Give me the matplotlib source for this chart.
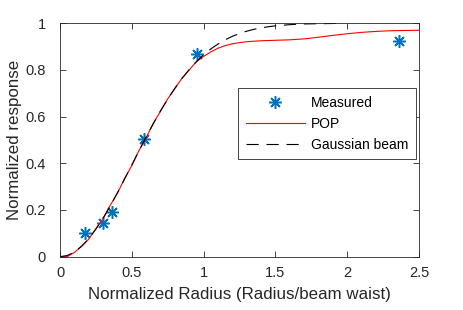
import matplotlib
matplotlib.use("Agg")
import matplotlib.pyplot as plt

plt.rcParams['font.family'] = ['Liberation Sans', 'DejaVu Sans']

# measured points
meas_r = [0.174, 0.296, 0.36, 0.587, 0.952, 2.36]
meas_v = [0.10, 0.145, 0.19, 0.503, 0.868, 0.922]

# POP simulation
pop_r = [0, 0.05, 0.1, 0.15, 0.2, 0.25, 0.3, 0.35, 0.4, 0.45, 0.5, 0.55,
         0.6, 0.65, 0.7, 0.75, 0.8, 0.85, 0.9, 0.95, 1.0, 1.05, 1.1, 1.15,
         1.2, 1.25, 1.3, 1.4, 1.5, 1.6, 1.7, 1.8, 1.9, 2.0, 2.1, 2.2, 2.3,
         2.4, 2.5]
pop_v = [0, 0.0, 0.018, 0.045, 0.075, 0.12, 0.163, 0.22, 0.272, 0.335,
         0.39, 0.455, 0.51, 0.572, 0.623, 0.676, 0.72, 0.765, 0.80, 0.835,
         0.858, 0.877, 0.893, 0.904, 0.912, 0.917, 0.921, 0.925, 0.927,
         0.929, 0.933, 0.94, 0.948, 0.955, 0.961, 0.965, 0.968, 0.969, 0.970]

# gaussian beam reference
gau_r = [0, 0.05, 0.1, 0.15, 0.2, 0.25, 0.3, 0.35, 0.4, 0.45, 0.5, 0.55,
         0.6, 0.65, 0.7, 0.75, 0.8, 0.85, 0.9, 0.95, 1.0, 1.05, 1.1, 1.15,
         1.2, 1.25, 1.3, 1.35, 1.4, 1.45, 1.5, 1.6, 1.7, 1.8, 1.9, 1.95]
gau_v = [0, 0.005, 0.020, 0.044, 0.077, 0.118, 0.165, 0.217, 0.274, 0.333,
         0.393, 0.454, 0.513, 0.570, 0.625, 0.675, 0.722, 0.764, 0.802,
         0.836, 0.865, 0.890, 0.911, 0.929, 0.944, 0.956, 0.966, 0.974,
         0.980, 0.985, 0.989, 0.994, 0.997, 0.998, 0.999, 1.0]

xticks = [0, 0.5, 1, 1.5, 2, 2.5]
xtick_labels = ['0', '0.5', '1', '1.5', '2', '2.5']
yticks = [0, 0.2, 0.4, 0.6, 0.8, 1]
ytick_labels = ['0', '0.2', '0.4', '0.6', '0.8', '1']

axcol = '#262626'

fig = plt.figure(figsize=(4.63, 3.10), dpi=100)
ax = fig.add_axes([0.1296, 0.172, 0.7754, 0.753])

ax.plot(meas_r, meas_v, linestyle='none', marker=(8, 2, 0), markersize=9,
        markeredgewidth=1.1, color='#0072BD', label='Measured')
ax.plot(pop_r, pop_v, color='red', lw=0.8, label='POP')
ax.plot(gau_r, gau_v, color='black', lw=0.8, linestyle=(0, (11, 7)),
        label='Gaussian beam')

ax.set_xlim(0, 2.5)
ax.set_ylim(0, 1)
ax.set_xticks(xticks)
ax.set_xticklabels(xtick_labels)
ax.set_yticks(yticks)
ax.set_yticklabels(ytick_labels)
ax.tick_params(direction='in', length=4, width=0.6, colors=axcol,
               labelsize=10.5, top=True, right=True)
ax.tick_params(axis='x', pad=7)
ax.tick_params(axis='y', pad=10)
for s in ax.spines.values():
    s.set_color(axcol)
    s.set_linewidth(0.6)

ax.set_xlabel('Normalized Radius (Radius/beam waist)', fontsize=12.2,
              color=axcol, labelpad=5)
ax.set_ylabel('Normalized response', fontsize=12.2, color=axcol, labelpad=3)

leg = ax.legend(loc='upper right', bbox_to_anchor=(0.992, 0.722),
                fontsize=10, fancybox=False, framealpha=1,
                edgecolor=axcol, handlelength=4.25, handletextpad=0.45,
                borderpad=0.55, labelspacing=0.5, borderaxespad=0)
leg.get_frame().set_linewidth(0.6)

fig.savefig('out.png', dpi=100)
